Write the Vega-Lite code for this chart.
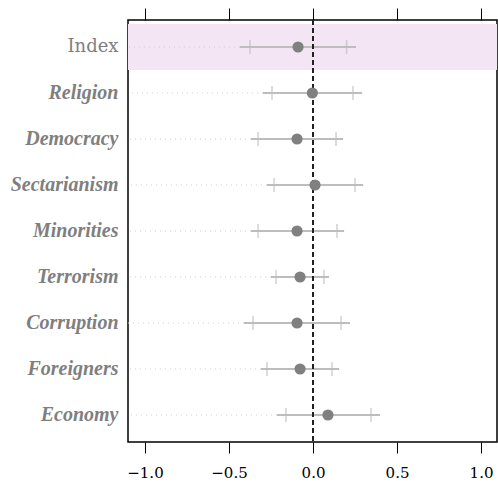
{
  "$schema": "https://vega.github.io/schema/vega-lite/v6.json",
  "width": 369,
  "height": 422,
  "autosize": {"type": "none"},
  "padding": {"left": 128, "top": 20, "right": 1, "bottom": 43},
  "background": "white",
  "config": {
    "view": {"stroke": "black", "strokeWidth": 1.5},
    "axis": {"grid": false}
  },
  "data": {
    "values": [
      {"var": "Index", "est": -0.089, "lower": -0.435, "upper": 0.256, "lower90": -0.375, "upper90": 0.200},
      {"var": "Religion", "est": -0.004, "lower": -0.298, "upper": 0.292, "lower90": -0.244, "upper90": 0.238},
      {"var": "Democracy", "est": -0.095, "lower": -0.369, "upper": 0.179, "lower90": -0.327, "upper90": 0.137},
      {"var": "Sectarianism", "est": 0.012, "lower": -0.274, "upper": 0.298, "lower90": -0.232, "upper90": 0.250},
      {"var": "Minorities", "est": -0.095, "lower": -0.369, "upper": 0.185, "lower90": -0.327, "upper90": 0.143},
      {"var": "Terrorism", "est": -0.077, "lower": -0.25, "upper": 0.095, "lower90": -0.22, "upper90": 0.065},
      {"var": "Corruption", "est": -0.095, "lower": -0.411, "upper": 0.220, "lower90": -0.357, "upper90": 0.167},
      {"var": "Foreigners", "est": -0.077, "lower": -0.310, "upper": 0.155, "lower90": -0.274, "upper90": 0.113},
      {"var": "Economy", "est": 0.089, "lower": -0.214, "upper": 0.399, "lower90": -0.161, "upper90": 0.345}
    ]
  },
  "layer": [
    {
      "transform": [{"filter": "datum.var == 'Index'"}],
      "mark": {"type": "rect", "color": "#f3e5f4"},
      "encoding": {
        "y": {
          "field": "var",
          "type": "nominal",
          "sort": null,
          "scale": {"type": "band", "paddingInner": 0, "paddingOuter": 0.087, "domain": ["Index", "Religion", "Democracy", "Sectarianism", "Minorities", "Terrorism", "Corruption", "Foreigners", "Economy"]},
          "axis": {
            "title": null,
            "ticks": false,
            "domain": false,
            "labelPadding": 10,
            "labelFont": {"condition": {"test": "datum.value == 'Index'", "value": "DejaVu Serif"}, "value": "Liberation Serif"},
            "labelFontSize": {"condition": {"test": "datum.value == 'Index'", "value": 18}, "value": 20},
            "labelFontWeight": {"condition": {"test": "datum.value == 'Index'", "value": "normal"}, "value": "bold"},
            "labelFontStyle": {"condition": {"test": "datum.value == 'Index'", "value": "normal"}, "value": "italic"},
            "labelColor": "#7f7f7f"
          }
        }
      }
    },
    {
      "mark": {"type": "rule", "color": "#cccccc", "strokeDash": [1, 4], "strokeWidth": 1},
      "encoding": {
        "y": {"field": "var", "type": "nominal", "sort": null},
        "x": {"field": "lower", "type": "quantitative", "scale": {"domain": [-1.101, 1.095], "nice": false, "zero": false}, "axis": null},
        "x2": {"datum": -1.101}
      }
    },
    {
      "mark": {"type": "rule", "color": "#bdbdbd", "strokeWidth": 2},
      "encoding": {
        "y": {"field": "var", "type": "nominal", "sort": null},
        "x": {
          "field": "lower",
          "type": "quantitative",
          "axis": {
            "orient": "bottom",
            "title": null,
            "values": [-1, -0.5, 0, 0.5, 1],
            "format": ".1f",
            "domain": false,
            "tickSize": 11,
            "tickColor": "black",
            "labelFont": "DejaVu Serif",
            "labelFontSize": 15,
            "labelColor": "black",
            "labelPadding": 12
          }
        },
        "x2": {"field": "upper"}
      }
    },
    {
      "mark": {"type": "tick", "color": "#bdbdbd", "thickness": 1.5, "size": 14},
      "encoding": {
        "y": {"field": "var", "type": "nominal", "sort": null},
        "x": {"field": "lower90", "type": "quantitative", "axis": null}
      }
    },
    {
      "mark": {"type": "tick", "color": "#bdbdbd", "thickness": 1.5, "size": 14},
      "encoding": {
        "y": {"field": "var", "type": "nominal", "sort": null},
        "x": {"field": "upper90", "type": "quantitative", "axis": null}
      }
    },
    {
      "mark": {"type": "rule", "color": "#222222", "strokeDash": [5, 3], "strokeWidth": 1.2},
      "encoding": {"x": {"datum": 0, "type": "quantitative", "axis": null}}
    },
    {
      "mark": {"type": "point", "filled": true, "color": "#808080", "opacity": 1, "size": 125},
      "encoding": {
        "y": {"field": "var", "type": "nominal", "sort": null},
        "x": {
          "field": "est",
          "type": "quantitative",
          "axis": {
            "orient": "top",
            "title": null,
            "values": [-1, -0.5, 0, 0.5, 1],
            "labels": false,
            "domain": false,
            "tickSize": 12,
            "tickColor": "black"
          }
        }
      }
    }
  ],
  "resolve": {"axis": {"x": "independent"}}
}
